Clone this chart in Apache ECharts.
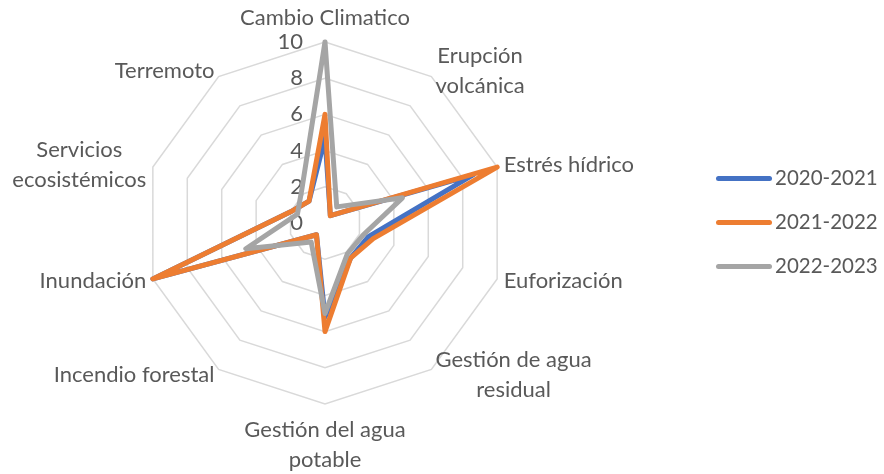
<!DOCTYPE html>
<html>
<head>
<meta charset="utf-8">
<script src="https://cdn.jsdelivr.net/npm/echarts@6/dist/echarts.min.js"></script>
<style>
html,body{margin:0;padding:0;background:#fff;}
#chart{width:884px;height:474px;}
</style>
</head>
<body>
<div id="chart"></div>
<script>
// Categories, clockwise from the top
const categories = [
  'Cambio Climatico',
  'Erupción\nvolcánica',
  'Estrés hídrico',
  'Euforización',
  'Gestión de agua\nresidual',
  'Gestión del agua\npotable',
  'Incendio forestal',
  'Inundación',
  'Servicios\necosistémicos',
  'Terremoto'
];
const seriesNames = ['2020-2021', '2021-2022', '2022-2023'];
const values2020 = [4.7, 0.5, 8.6, 2.5, 2.4, 5.2, 0.8, 10, 2.0, 1.5];
const values2021 = [6.0, 0.5, 10, 2.8, 2.4, 6.0, 0.8, 10, 2.0, 1.5];
const values2022 = [10, 1.1, 4.5, 2.2, 2.1, 5.0, 1.3, 4.6, 1.6, 2.2];
const axisMax = 10;
const axisSplits = 5;

const colors = ['#4472C4', '#ED7D31', '#A5A5A5'];
const textColor = '#595959';
const FONT = 'Lato, "Open Sans", sans-serif';
const FS = 22;

// ECharts lays indicators counter-clockwise; reorder to get clockwise layout
const order = [0];
for (let i = categories.length - 1; i >= 1; i--) order.push(i);
const reorder = arr => order.map(i => arr[i]);

const indicators = reorder(categories).map((name, k) => {
  const ind = { name: name, min: 0, max: axisMax };
  if (k === 0) {
    ind.axisLabel = { show: true };
    ind.nameGap = 9;
  }
  if (name.indexOf('potable') >= 0) ind.nameGap = 11;
  return ind;
});

const allValues = [values2020, values2021, values2022];

const chart = echarts.init(document.getElementById('chart'), null, { renderer: 'canvas' });
chart.setOption({
  backgroundColor: '#ffffff',
  animation: false,
  textStyle: { fontFamily: FONT },
  legend: {
    orient: 'vertical',
    left: 716,
    top: 168,
    padding: 0,
    itemWidth: 56,
    itemHeight: 5,
    itemGap: 23,
    icon: 'path://M2.5,0 L53.5,0 A2.5,2.5 0 0 1 53.5,5 L2.5,5 A2.5,2.5 0 0 1 2.5,0 Z',
    textStyle: { color: textColor, fontSize: 20.5, fontFamily: FONT, padding: [0, 0, 0, -2] },
    data: seriesNames
  },
  radar: {
    center: [325, 223],
    radius: 181,
    startAngle: 90,
    splitNumber: axisSplits,
    shape: 'polygon',
    nameGap: 7,
    axisName: {
      color: textColor,
      fontSize: FS,
      fontFamily: FONT,
      formatter: function (name) {
        return name.split('\n').map(l => '{c|' + l + '}').join('\n');
      },
      rich: {
        c: { align: 'center', fontSize: FS, fontFamily: FONT, color: textColor, lineHeight: 30 }
      }
    },
    axisLine: { show: false },
    axisTick: { show: false },
    axisLabel: {
      show: false,
      color: textColor,
      fontSize: FS,
      fontFamily: FONT,
      margin: 22
    },
    splitLine: { lineStyle: { color: '#D9D9D9', width: 1.5 } },
    splitArea: { show: false },
    indicator: indicators
  },
  series: [{
    type: 'radar',
    symbol: 'none',
    data: allValues.map((vals, i) => ({
      name: seriesNames[i],
      value: reorder(vals),
      itemStyle: { color: colors[i] },
      lineStyle: { color: colors[i], width: 5, join: 'round', cap: 'round' }
    }))
  }]
});
</script>
</body>
</html>
